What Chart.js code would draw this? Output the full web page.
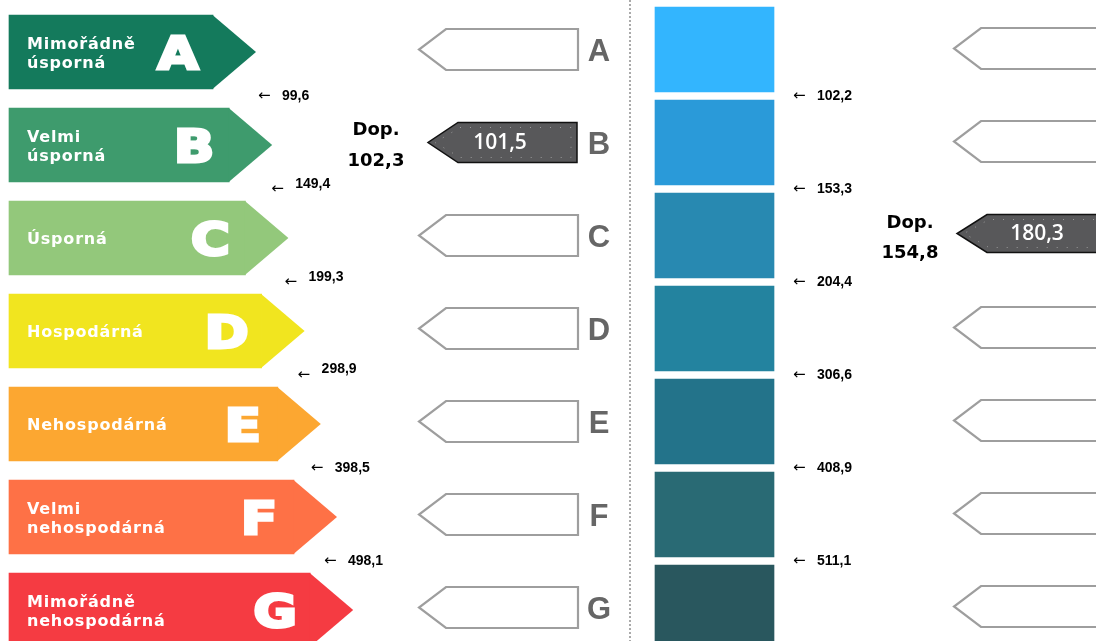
<!DOCTYPE html>
<html><head><meta charset="utf-8">
<script src="https://cdn.jsdelivr.net/npm/chart.js@4/dist/chart.umd.min.js"></script>
<style>html,body{margin:0;padding:0;background:#fff;overflow:hidden}#wrap{width:1096px;height:641px;position:relative}</style>
</head><body><div id="wrap"><canvas id="c"></canvas></div>
<script>
// ---- data ----
const categories = ['A','B','C','D','E','F','G'];
const classNames = [['Mimořádně','úsporná'],['Velmi','úsporná'],['Úsporná'],['Hospodárná'],['Nehospodárná'],['Velmi','nehospodárná'],['Mimořádně','nehospodárná']];
const classColors = ['#147a5c','#3e9b6d','#93c87b','#f1e51f','#fca731','#fe7146','#f53b42'];
const scaleColors = ['#33b5fe','#2a9ad9','#2889b1','#23839f','#23738a','#296a74','#29575e'];
const leftThresholds = [99.6,149.4,199.3,298.9,398.5,498.1];
const rightThresholds = [102.2,153.3,204.4,306.6,408.9,511.1];
const leftClass = 'B', leftValue = 101.5, leftRecommended = 102.3;
const rightClass = 'C', rightValue = 180.3, rightRecommended = 154.8;

// ---- layout (x in scale units of 0..1096) ----
const L = {
  pitch: 93, leftFirst: 52, rightFirst: 49.5, height: 641, width: 1096,
  leftStart: 9, leftEnd0: 213, leftStep: 16.2, tipW: 43, arrowH: 74, blueH: 85,
  nameX: 27, letterBack: 35,
  lblX0: 258, lblStep: 13.2, lblGap: 24, lblNudge: [0,-5,-5,-6,0,0],
  midTip: 419, midSlope: 446, midRight: 578, midHalf: 20.5,
  fillTip: 428, fillSlope: 458, fillRight: 577, fillHalf: 20, fillTextX: 500,
  midLetterX: 599, divX: 630, blueL: 655, blueR: 774,
  rLblX: 793, rTip: 954, rSlope: 981, rRight: 1110,
  rFillTip: 957, rFillSlope: 987, rFillRight: 1110, rFillHalf: 19, rFillTextX: 1037,
  dopLX: 376, dopRX: 910
};
const fmt = v => v.toFixed(1).replace('.', ',');

const arrowData = categories.map((c,i)=>({x:[L.leftStart, L.leftEnd0 + L.leftStep*i], y:i}));
const blueData = categories.map((c,i)=>({x:[L.blueL, L.blueR], y:i}));

function outline(ctx, tip, slope, right, cy, half, closeRight){
  ctx.beginPath();
  ctx.moveTo(right, cy-half); ctx.lineTo(slope, cy-half); ctx.lineTo(tip, cy);
  ctx.lineTo(slope, cy+half); ctx.lineTo(right, cy+half);
  if (closeRight) ctx.closePath();
}
function filledArrow(ctx, tip, slope, right, cy, half, text, tx){
  ctx.save();
  outline(ctx, tip, slope, right, cy, half, true);
  ctx.fillStyle = '#58585a'; ctx.fill();
  ctx.lineWidth = 1.5; ctx.strokeStyle = '#111'; ctx.stroke();
  outline(ctx, tip+7, slope+2, right-6, cy, half-5, true);
  ctx.setLineDash([1,9]); ctx.lineWidth = 1; ctx.strokeStyle = 'rgba(170,170,170,0.8)'; ctx.stroke();
  ctx.setLineDash([]);
  ctx.fillStyle = '#fff'; ctx.font = '600 21px "Open Sans"'; ctx.textAlign = 'center'; ctx.textBaseline = 'middle';
  ctx.fillText(text, tx, cy+1);
  ctx.restore();
}

const drawPlugin = {
  id: 'energyLabel',
  afterDatasetsDraw(chart){
    const {ctx} = chart; const {x, y, y2} = chart.scales;
    ctx.save();
    // left coloured arrow tips + texts
    chart.getDatasetMeta(0).data.forEach((bar, i)=>{
      const p = bar.getProps(['x','y','height'], true);
      const top = p.y - p.height/2, bot = p.y + p.height/2;
      ctx.fillStyle = classColors[i];
      ctx.beginPath(); ctx.moveTo(p.x-0.5, top); ctx.lineTo(p.x + L.tipW, p.y); ctx.lineTo(p.x-0.5, bot); ctx.closePath(); ctx.fill();
      // names
      ctx.fillStyle = '#fff'; ctx.textAlign = 'left'; ctx.textBaseline = 'alphabetic';
      ctx.font = 'bold 16px "DejaVu Sans"'; ctx.letterSpacing = '0.8px';
      const nx = x.getPixelForValue(L.nameX);
      const lines = classNames[i];
      if (lines.length === 1) ctx.fillText(lines[0], nx, p.y + 5.8);
      else { ctx.fillText(lines[0], nx, p.y - 3.5); ctx.fillText(lines[1], nx, p.y + 15.5); }
      ctx.letterSpacing = '0px';
      // big letter
      ctx.save();
      ctx.translate(p.x - L.letterBack, p.y + 16.5);
      ctx.scale(1.2, 1);
      ctx.font = 'bold 44px "DejaVu Sans"'; ctx.textAlign = 'center';
      ctx.lineWidth = 3; ctx.strokeStyle = '#fff'; ctx.lineJoin = 'miter';
      ctx.strokeText(categories[i], 0, 0); ctx.fillText(categories[i], 0, 0);
      ctx.restore();
    });
    // left threshold labels
    ctx.fillStyle = '#000'; ctx.textAlign = 'left'; ctx.textBaseline = 'middle';
    leftThresholds.forEach((v, i)=>{
      const yy = y2.getPixelForValue(i + 0.5);
      const ax = x.getPixelForValue(L.lblX0 + L.lblStep*i);
      ctx.font = '15px "DejaVu Sans"'; ctx.fillText('←', ax, yy);
      ctx.font = 'bold 14px "Liberation Sans"'; ctx.fillText(fmt(v), x.getPixelForValue(L.lblX0 + L.lblStep*i + L.lblGap), yy + L.lblNudge[i]);
    });
    // right threshold labels
    rightThresholds.forEach((v, i)=>{
      const yy = y2.getPixelForValue(i + 0.5);
      const ax = x.getPixelForValue(L.rLblX);
      ctx.font = '15px "DejaVu Sans"'; ctx.fillText('←', ax, yy);
      ctx.font = 'bold 14px "Liberation Sans"'; ctx.fillText(fmt(v), x.getPixelForValue(L.rLblX + L.lblGap), yy);
    });
    // middle column arrows & letters, right column arrows
    categories.forEach((c, i)=>{
      const cy = y2.getPixelForValue(i);
      if (c === leftClass) {
        filledArrow(ctx, x.getPixelForValue(L.fillTip), x.getPixelForValue(L.fillSlope), x.getPixelForValue(L.fillRight), cy, L.fillHalf, fmt(leftValue), x.getPixelForValue(L.fillTextX));
      } else {
        outline(ctx, x.getPixelForValue(L.midTip), x.getPixelForValue(L.midSlope), x.getPixelForValue(L.midRight), cy, L.midHalf, true);
        ctx.lineWidth = 2.2; ctx.strokeStyle = '#9e9e9e'; ctx.setLineDash([]); ctx.stroke();
      }
      if (c === rightClass) {
        filledArrow(ctx, x.getPixelForValue(L.rFillTip), x.getPixelForValue(L.rFillSlope), x.getPixelForValue(L.rFillRight), cy - 2, L.rFillHalf, fmt(rightValue), x.getPixelForValue(L.rFillTextX));
      } else {
        outline(ctx, x.getPixelForValue(L.rTip), x.getPixelForValue(L.rSlope), x.getPixelForValue(L.rRight), cy - 1, L.midHalf, false);
        ctx.lineWidth = 2.2; ctx.strokeStyle = '#9e9e9e'; ctx.stroke();
      }
      ctx.fillStyle = '#666'; ctx.font = 'bold 31px "Liberation Sans"'; ctx.textAlign = 'center'; ctx.textBaseline = 'alphabetic';
      ctx.fillText(c, x.getPixelForValue(L.midLetterX), cy + 11.5);
    });
    // recommended values
    ctx.fillStyle = '#000'; ctx.font = 'bold 18px "DejaVu Sans"'; ctx.textAlign = 'center'; ctx.textBaseline = 'middle';
    const ly = y.getPixelForValue(categories.indexOf(leftClass));
    ctx.fillText('Dop.', x.getPixelForValue(L.dopLX), ly - 15);
    ctx.fillText(fmt(leftRecommended), x.getPixelForValue(L.dopLX), ly + 16);
    const ry = y.getPixelForValue(categories.indexOf(rightClass));
    ctx.fillText('Dop.', x.getPixelForValue(L.dopRX), ry - 15);
    ctx.fillText(fmt(rightRecommended), x.getPixelForValue(L.dopRX), ry + 15);
    // divider
    ctx.beginPath(); ctx.setLineDash([2,2]); ctx.lineWidth = 2; ctx.strokeStyle = '#aaa';
    const dx = x.getPixelForValue(L.divX);
    ctx.moveTo(dx, 0); ctx.lineTo(dx, chart.height); ctx.stroke(); ctx.setLineDash([]);
    ctx.restore();
  }
};

const yMin = -L.leftFirst / L.pitch, y2Min = -L.rightFirst / L.pitch;
new Chart(document.getElementById('c'), {
  type: 'bar',
  data: { labels: categories, datasets: [
    { data: arrowData, backgroundColor: classColors, yAxisID: 'y', xAxisID: 'x', barThickness: L.arrowH, borderWidth: 0, grouped: false },
    { data: blueData, backgroundColor: scaleColors, yAxisID: 'y2', xAxisID: 'x', barThickness: L.blueH, borderWidth: 0, grouped: false }
  ]},
  options: {
    indexAxis: 'y', responsive: true, maintainAspectRatio: false, animation: false, devicePixelRatio: 1,
    layout: { padding: 0 },
    events: [],
    scales: {
      x: { type: 'linear', min: 0, max: L.width, display: false, bounds: 'data', offset: false },
      y: { type: 'linear', reverse: true, min: yMin, max: yMin + L.height / L.pitch, display: false, bounds: 'data', offset: false },
      y2: { type: 'linear', reverse: true, min: y2Min, max: y2Min + L.height / L.pitch, display: false, bounds: 'data', offset: false }
    },
    plugins: { legend: { display: false }, tooltip: { enabled: false } }
  },
  plugins: [drawPlugin]
});
</script></body></html>
